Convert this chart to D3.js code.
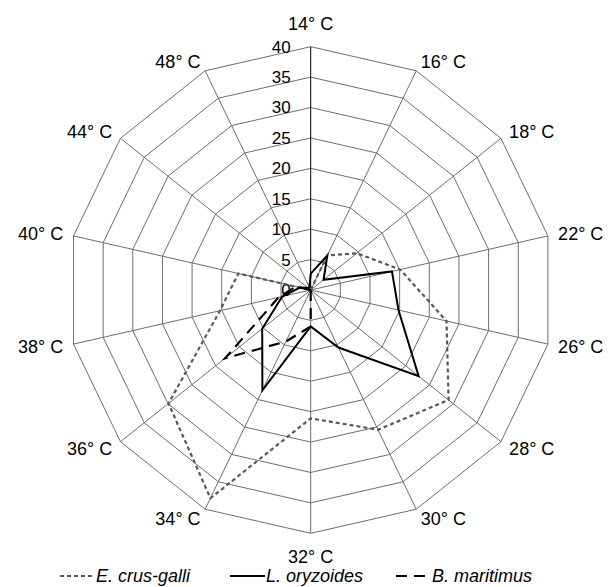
<!DOCTYPE html>
<html><head><meta charset="utf-8">
<script src="https://cdn.jsdelivr.net/npm/d3@7"></script>
<style>body{margin:0;background:#fff}svg{display:block}text{font-family:"Liberation Sans",Arial,sans-serif}</style>
</head><body><svg id="c" width="608" height="587"></svg>
<script>
const categories = ["14° C","16° C","18° C","22° C","26° C","28° C","30° C","32° C","34° C","36° C","38° C","40° C","44° C","48° C"];
const crusGalli = [0, 6.3, 9.7, 15.1, 22.9, 29.0, 25.5, 21.1, 38.0, 29.9, 15.3, 12.2, 0, 0];
const oryzoides = [2.7, 6.3, 2.7, 13.7, 14.8, 22.7, 10.5, 6.0, 18.3, 10.2, 4.8, 1.8, 0.5, 0.5];
const maritimus = [0, 0, 0, 0, 0, 0, 0, 6.0, 9.4, 18.0, 5.4, 2.5, 0, 0];
const tickValues = [0, 5, 10, 15, 20, 25, 30, 35, 40];
const seriesNames = ["E. crus-galli", "L. oryzoides", "B. maritimus"];

const svg = d3.select("#c");
const cx = 310.7, cy = 290, R = 243.3;
const n = categories.length;
const r = d3.scaleLinear().domain([0, 40]).range([0, R]);
const ang = d3.scaleLinear().domain([0, n]).range([0, 2 * Math.PI]);
const g = svg.append("g").attr("transform", `translate(${cx},${cy})`);

const ringLine = d3.lineRadial().angle((d, i) => ang(i)).radius(d => r(d)).curve(d3.curveLinearClosed);

// rings
tickValues.filter(v => v > 0).forEach(v => {
  g.append("path").attr("d", ringLine(categories.map(() => v)))
    .attr("fill", "none").attr("stroke", "#6e6e6e").attr("stroke-width", 1);
});
// spokes
categories.forEach((c, i) => {
  const a = ang(i);
  g.append("line").attr("x1", 0).attr("y1", 0)
    .attr("x2", r(40) * Math.sin(a)).attr("y2", -r(40) * Math.cos(a))
    .attr("stroke", i === 0 ? "#000" : "#6e6e6e").attr("stroke-width", 1);
});
// tick labels
g.selectAll(".tick").data(tickValues).enter().append("text")
  .attr("x", -20).attr("y", d => -r(d)).attr("dy", "0.35em")
  .attr("text-anchor", "end").attr("font-size", 17).attr("fill", "#000").text(d => d);

// category labels
categories.forEach((c, i) => {
  const a = ang(i), s = Math.sin(a), co = Math.cos(a);
  const vx = r(40) * s, vy = -r(40) * co;
  let x, y, anchor;
  if (Math.abs(s) < 1e-6) {
    x = vx; y = vy - 23.5 * co; anchor = "middle";
  } else {
    x = vx + 10.5 * s; y = vy - 10.5 * co; anchor = s > 0 ? "start" : "end";
  }
  g.append("text").attr("x", x).attr("y", y).attr("dy", "0.35em")
    .attr("text-anchor", anchor).attr("font-size", 18).attr("fill", "#000").text(c);
});

const seriesData = [crusGalli, oryzoides, maritimus];
const styles = [
  {stroke: "#595959", width: 2.2, dash: "4,3"},
  {stroke: "#000", width: 2, dash: null},
  {stroke: "#000", width: 2.2, dash: "11,7"}
];
seriesData.forEach((vals, k) => {
  g.append("path").attr("d", ringLine(vals)).attr("fill", "none")
    .attr("stroke", styles[k].stroke).attr("stroke-width", styles[k].width)
    .attr("stroke-dasharray", styles[k].dash).attr("stroke-linejoin", "miter");
});

// legend
const legX = [60, 230, 396];
const lg = svg.append("g");
seriesNames.forEach((nm, k) => {
  lg.append("line").attr("x1", legX[k]).attr("x2", legX[k] + 35)
    .attr("y1", 576).attr("y2", 576)
    .attr("stroke", styles[k].stroke).attr("stroke-width", styles[k].width)
    .attr("stroke-dasharray", styles[k].dash);
  lg.append("text").attr("x", legX[k] + 36).attr("y", 582)
    .attr("font-size", 18).attr("font-style", "italic").attr("fill", "#000").text(nm);
});
</script></body></html>
